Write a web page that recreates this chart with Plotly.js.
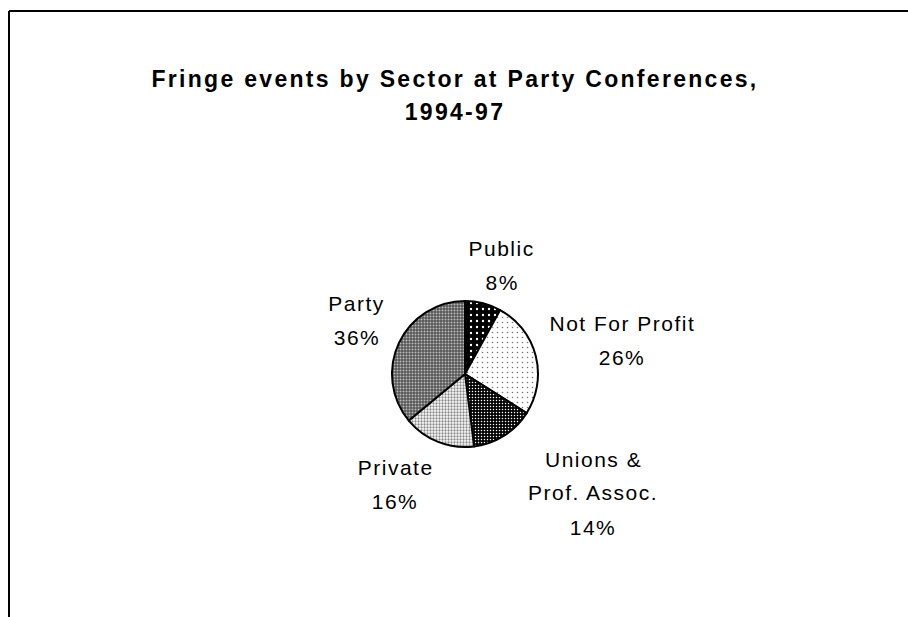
<!DOCTYPE html>
<html>
<head>
<meta charset="utf-8">
<script src="https://cdn.plot.ly/plotly-3.0.1.min.js"></script>
<style>
  html, body { margin: 0; padding: 0; background: #fff; }
  #chart { width: 908px; height: 617px; }
</style>
</head>
<body>
<div id="chart"></div>
<script>
// ---- data ----
const titleLines = ["Fringe events by Sector at Party Conferences,", "1994-97"];
const sectors = ["Public", "Not For Profit", "Unions &<br>Prof. Assoc.", "Private", "Party"];
const shares = [8, 26, 14, 16, 36];

// ---- styling ----
const W = 908, H = 617;
const patterns = [
  {shape: ".", bgcolor: "#000000", fgcolor: "#ffffff", size: 6, solidity: 0.12},
  {shape: ".", bgcolor: "#ffffff", fgcolor: "#777777", size: 5, solidity: 0.08},
  {shape: ".", bgcolor: "#000000", fgcolor: "#ffffff", size: 3, solidity: 0.2},
  {shape: ".", bgcolor: "#ffffff", fgcolor: "#888888", size: 3, solidity: 0.45},
  {shape: ".", bgcolor: "#555555", fgcolor: "#bbbbbb", size: 3, solidity: 0.35}
];
// label block centres in px
const labelPos = [[502, 265], [622, 340], [593, 493], [395, 484], [357, 320]];
const lineGap = 34;

const cx = 465, cy = 374, r = 73;

const trace = {
  type: "pie",
  labels: sectors,
  values: shares,
  sort: false,
  direction: "clockwise",
  rotation: 0,
  textinfo: "none",
  hoverinfo: "label+percent",
  marker: {
    colors: patterns.map(p => p.bgcolor),
    pattern: {
      shape: patterns.map(p => p.shape),
      bgcolor: patterns.map(p => p.bgcolor),
      fgcolor: patterns.map(p => p.fgcolor),
      size: patterns.map(p => p.size),
      solidity: patterns.map(p => p.solidity),
      fillmode: "replace"
    },
    line: {color: "#000000", width: 2}
  },
  domain: {
    x: [(cx - r) / W, (cx + r) / W],
    y: [1 - (cy + r) / H, 1 - (cy - r) / H]
  },
  showlegend: false
};

const annotations = [];
const total = shares.reduce((a, b) => a + b, 0);
sectors.forEach((s, i) => {
  const lines = s.split("<br>").concat([Math.round(shares[i] / total * 100) + "%"]);
  const n = lines.length;
  lines.forEach((ln, j) => {
    const ypx = labelPos[i][1] + (j - (n - 1) / 2) * lineGap;
    annotations.push({
      xref: "paper", yref: "paper",
      x: labelPos[i][0] / W, y: 1 - ypx / H,
      xanchor: "center", yanchor: "middle",
      text: ln, showarrow: false,
      font: {family: "Liberation Sans, Arial, sans-serif", size: 21, color: "#000"}
    });
  });
});

const layout = {
  width: W, height: H,
  margin: {l: 0, r: 0, t: 0, b: 0},
  paper_bgcolor: "#ffffff",
  plot_bgcolor: "#ffffff",
  title: {
    text: titleLines.join("<br>"),
    font: {family: "Liberation Sans, Arial, sans-serif", size: 23, color: "#000", weight: "bold"},
    x: 455 / W, xanchor: "center",
    y: 1 - 87 / H, yanchor: "top", yref: "container"
  },
  annotations: annotations,
  shapes: [
    {type: "line", xref: "paper", yref: "paper", x0: 9 / W, x1: 1, y0: 1 - 11 / H, y1: 1 - 11 / H, line: {color: "#000", width: 2}},
    {type: "line", xref: "paper", yref: "paper", x0: 9 / W, x1: 9 / W, y0: 1 - 11 / H, y1: 0, line: {color: "#000", width: 2}}
  ]
};

Plotly.newPlot("chart", [trace], layout, {displayModeBar: false, staticPlot: true}).then(gd => {
  gd.querySelectorAll(".annotation-text").forEach(t => { t.style.letterSpacing = "1.5px"; });
  const tt = gd.querySelector(".gtitle");
  if (tt) {
    tt.style.letterSpacing = "2.3px";
    tt.querySelectorAll("tspan.line").forEach((ts, k) => { if (k > 0) ts.setAttribute("dy", "1.43em"); });
  }
});
</script>
</body>
</html>
